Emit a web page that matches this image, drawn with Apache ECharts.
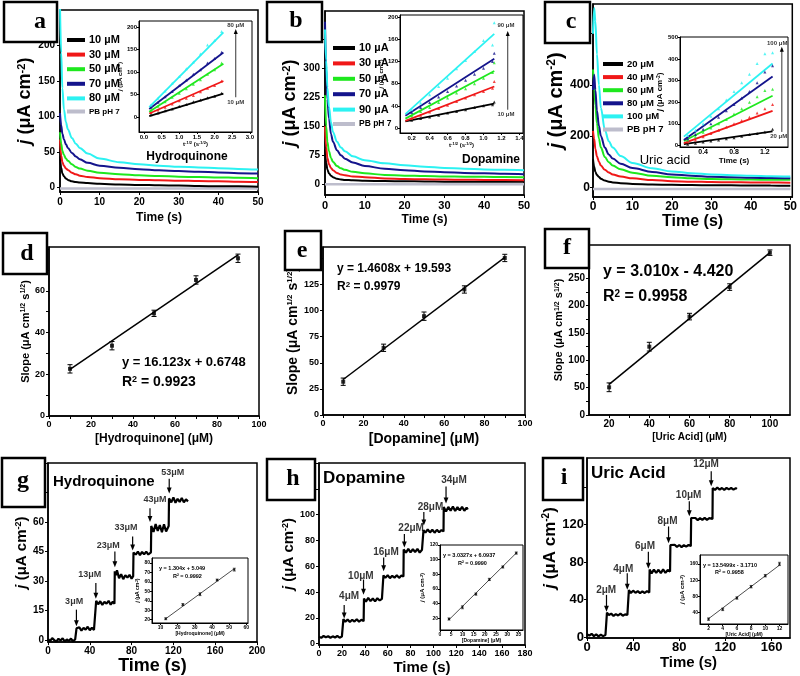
<!DOCTYPE html>
<html><head><meta charset="utf-8">
<script src="https://cdn.jsdelivr.net/npm/echarts@6/dist/echarts.min.js"></script>
<style>html,body{margin:0;padding:0;background:#fff}#c{width:800px;height:676px}</style>
</head><body><div id="c"></div>
<script>
// ================= DATA =================
// (a,b,c) chronoamperometric decays: time (s) and current density (uA cm-2)
const decayTime = [0,0.3,0.6,1,1.5,2,3,4,5,7,10,15,20,25,30,35,40,45,50];
const hq10 = [44,28,20,16,13,11,9,8,7.5,6.5,5.5,4.5,4,3.5,3,2.5,2,2,1.5];
const hq30 = [68,45,36,31,27,25,21,19,17,15,13.5,12,11,10.5,10,9.5,9,8.5,8];
const hq50 = [78,62,52,46,41,38,33,29,27,24,21,19,17.5,16.5,15.5,15,14.5,14,13.5];
const hq70 = [105,88,76,68,61,56,49,44,40,35,31,28,26,24.5,23.5,22.5,21.5,20.5,20];
const hq80 = [255,190,140,110,92,82,70,62,56,48,41,36,33,31,29.5,28.5,27.5,26.5,25.5];
const hqPB = [-1,-1,-1,-1,-1,-1,-1,-1,-1,-1,-1,-1,-1,-1,-1,-1,-1,-1,-1];

const da10 = [90,55,38,28,22,18,14,12,11,10,9,8,7.5,7,6.5,6.5,6,6,6];
const da30 = [150,95,68,52,42,36,29,25,23,20,18,15,13.5,12.5,12,11.5,11,10.5,10];
const da50 = [230,150,110,85,68,58,47,41,37,32,28,24,22,21,20,19.5,19,18.5,18];
const da70 = [420,300,220,170,130,110,88,75,66,56,47,40,36,33,31,29,28,27,26];
const da90 = [400,320,250,200,160,135,110,95,85,72,62,54,49,45,42,40,38,37,36];
const daPB = [0,0,0,0,0,0,0,0,0,0,0,0,0,0,0,0,0,0,0];

const ua20 = [110,80,60,48,40,33,26,22,19,16,13,11,9.5,8.5,8,7.5,7,6.5,6];
const ua40 = [220,190,150,120,100,85,68,58,50,42,35,28,24,22,20.5,19.5,19,18.5,18];
const ua60 = [460,400,320,250,190,155,118,98,85,70,57,45,39,35,32,31,30,29,29];
const ua80 = [380,440,380,300,240,200,155,128,112,92,75,60,50,45,41,39,37,36,35];
const ua100 = [600,700,650,520,400,310,225,180,155,122,95,74,62,55,50,47,45,43,42];
const uaPB = [-7,-7,-7,-7,-7,-7,-7,-7,-7,-7,-7,-7,-7,-7,-7,-7,-7,-7,-7];

// insets of a,b,c: j vs t^-1/2
const hqInsetX = [0.2,0.4,0.6,0.8,1.0,1.2,1.4,1.6,1.8,2.0,2.2];
const hqDot10 = [5,9,14,18,24,28,34,38,43,46,53];
const hqDot30 = [10,16,22,29,36,42,48,56,64,70,80];
const hqDot50 = [15,24,34,44,53,63,73,83,95,105,120];
const hqDot70 = [22,33,45,57,70,82,95,105,120,130,144];
const hqDot80 = [27,42,58,75,90,107,122,140,160,170,190];
const hqFitX = [0.15,2.25];
const hqFit10 = [2,52], hqFit30 = [8,80], hqFit50 = [12,118], hqFit70 = [18,143], hqFit80 = [22,188];

const daInsetX = [0.2,0.3,0.4,0.5,0.6,0.7,0.8,0.9,1.0,1.1,1.12];
const daDot10 = [14,17,20,23,27,30,33,37,40,42,47];
const daDot30 = [17,23,29,35,41,48,54,60,66,72,84];
const daDot50 = [22,30,37,46,54,63,71,80,90,100,118];
const daDot70 = [28,37,46,56,66,76,86,97,108,120,135];
const daDot90 = [33,45,60,75,90,107,122,138,158,150,190];
const daFitX = [0.13,1.12];
const daFit10 = [12,44], daFit30 = [13,75], daFit50 = [17,103], daFit70 = [22,125], daFit90 = [25,170];

const uaInsetX = [0.2,0.3,0.4,0.5,0.6,0.7,0.8,0.9,1.0,1.1,1.2,1.3];
const uaDot20 = [5,10,15,20,25,30,35,42,50,55,62,75];
const uaDot40 = [15,25,40,55,70,85,100,115,130,150,170,190];
const uaDot60 = [25,40,60,80,100,120,145,170,200,225,255,260];
const uaDot80 = [30,50,75,100,130,160,190,220,250,290,340,370];
const uaDot100 = [45,70,100,135,170,210,250,290,330,380,425,430];
const uaFitX = [0.15,1.3];
const uaFit20 = [5,65], uaFit40 = [10,160], uaFit60 = [20,230], uaFit80 = [25,320], uaFit100 = [40,380];

// (d,e,f) slope vs concentration
const hqConc = [10,30,50,70,90], hqSlope = [22.6,33.7,49.2,65.2,75.6], hqErr = [2,2,1.5,2,2];
const hqLineConc = [10,90], hqLineSlope = [22.4,77.2];
const daConc = [10,30,50,70,90], daSlope = [31.9,64.4,94.7,120.3,150.5], daErr = [3.5,3.5,4,3.5,3.5];
const daLineConc = [10,90], daLineSlope = [34,151];
const uaConc = [20,40,60,80,100], uaSlope = [50.7,125,180,234,297], uaErr = [8,8,6,6,5];
const uaLineConc = [20,100], uaLineSlope = [56,297];

// (g,h,i) amperometric i-t: [time s, j]
const hqAmp = [[0,0.5],[2,-0.5],[4,1],[6,0],[8,-0.8],[10,0.7],[12,-0.2],[14,0.9],[16,-0.6],[18,0.3],[20,-0.4],[22,0.8],[24,-0.7],[26,0.4],[27,0],
[27.3,6],[28,5],[30,6.5],[32,4.8],[34,6.2],[36,5.3],[38,6.8],[40,5],[42,6.3],[44,5.2],[45.8,6],
[46.1,20],[48,18.2],[50,19.8],[52,17.9],[54,19.5],[56,18.5],[58,20],[60,18],[62,19.6],[63.6,18.5],
[63.9,35],[65,33],[66,35.5],[68,31.5],[70,33.5],[72,31],[74,33],[76,31.8],[78,33.2],[80,31.2],[81.5,32.5],
[81.8,44.5],[84,43.5],[86,45],[88,43.2],[90,44.8],[92,43.6],[94,45],[96,43.5],[98.5,44.6],
[98.8,58],[101,55],[103,59],[105,55.5],[107,58.5],[109,54.8],[111,58.8],[113,55.2],[115.5,58],
[115.8,72],[118,70],[120,72.5],[122,69.8],[124,71.8],[126,70.2],[128,72.2],[130,70],[132,71.5],[134,70.5]];
const daAmp = [[0,5.5],[2,4.5],[4,6],[6,5],[8,5.8],[10,4.6],[12,5.7],[14,4.8],[16,6],[18,4.7],[20,5.5],[21,5],
[21.3,19],[23,17],[25,18.8],[27,16.8],[29,18.5],[31,17.2],[33,19],[35,17],[37,18.6],[39,17.5],
[39.3,35],[41,32.5],[43,35.5],[45,33],[47,35],[49,32.8],[51,35.2],[53,33.5],[55,34.8],[56,34],
[56.3,53],[58,51],[60,53],[62,50.8],[64,52.6],[66,51.2],[68,53],[70,51],[72,52.8],[73.8,52],
[74,73],[76,70.5],[78,73.5],[80,70.8],[82,73.2],[84,71],[86,73.5],[88,70.6],[90,72.8],[91,72],
[91.3,88],[93,86],[95,88.5],[97,86.2],[99,88.3],[101,86],[103,88.2],[105,86.3],[107,88],[108.8,87],
[109,106],[111,102.5],[113,106],[115,103],[117,106.2],[119,102.8],[121,105.8],[123,103.2],[125,106],[127,103],[129,105.5],[130,104]];
const uaAmp = [[0,3],[2,1.5],[4,3.5],[6,1],[8,2.8],[10,0.8],[12,2.5],[14,1],[16,2.2],[17,1.5],
[17.3,26],[19,23.5],[21,25],[23,22.5],[25,24.5],[27,23],[29,25],[31,22.8],[33,24.2],[35,23.5],[36,24],
[36.3,50],[38,47],[40,49.5],[42,47.2],[44,49],[46,46.8],[48,48.8],[50,47],[52,49],[54,47.5],
[54.3,72],[56,68],[58,72],[60,68.5],[62,71.8],[64,68.2],[66,72.2],[68,68.5],[70,71.5],[72,70],
[72.3,98],[74,96],[76,98.5],[78,96.2],[80,98.2],[82,96],[84,98],[86,96.5],[88,98.2],[90,97],
[90.3,127],[92,125],[94,127],[96,124.8],[98,126.8],[100,125],[102,127.2],[104,125],[106,126.8],[108.8,126],
[109,159],[111,157],[113,159.5],[115,157.2],[117,159],[119,157],[121,159.2],[123,157.5],[125,159],[127,157.3],[129,158.8],[130,158]];

// additions: arrow time, arrow top, arrow tip; label position and text
const hqAddTime = [27.2,45.8,64,81,97.6,116], hqAddTop = [15.5,29,45,52.7,67,82], hqAddTip = [7,21,37,45.5,60,74.5];
const hqLabT = [25,40,57.6,74.6,102.4,119.4], hqLabJ = [19.8,33.2,48.1,57.3,71.3,85.3];
const hqAddLabel = ['3μM','13μM','23μM','33μM','43μM','53μM'];
const daAddTime = [22,38.9,56.5,74.6,91.6,111], daAddTop = [30,49.7,66.7,85,102,121.8], daAddTip = [19.6,38,56.2,74.6,91.6,108.6];
const daLabT = [26.3,36.6,58.5,80.5,97.4,117.9], daLabJ = [36.6,52.3,71.2,89.5,106,127];
const daAddLabel = ['4μM','10μM','16μM','22μM','28μM','34μM'];
const uaAddTime = [16.9,34.9,53.2,70.7,88.7,107.7], uaAddTop = [45,68,91,118,145,177], uaAddTip = [27,50.5,73,100,129,161];
const uaLabT = [16.6,31.4,50.3,69.8,88.1,103.3], uaLabJ = [49.5,72.6,96.8,123.5,151,184];
const uaAddLabel = ['2μM','4μM','6μM','8μM','10μM','12μM'];

// insets of g,h,i: calibration
const hqCalConc = [13,23,33,43,53], hqCalJ = [21,36,47,62,73], hqCalErr = [1,1,1.5,1,1.5];
const hqCalLineConc = [13,53], hqCalLineJ = [21,74];
const daCalConc = [4,10,16,22,28,34], daCalJ = [19,35,53,73,90,109], daCalErr = [1.5,2,1.5,1.5,1.5,1.5];
const daCalLineConc = [4,34], daCalLineJ = [18,109];
const uaCalConc = [2,4,6,8,10,12], uaCalJ = [24,48,76,104,131,160], uaCalErr = [3,3,3,3,3,4];
const uaCalLineConc = [2,12], uaCalLineJ = [25,157];

// tick labels
const aXTicks = [0,10,20,30,40,50], aYTicks = [0,50,100,150,200];
const bYTicks = [0,75,150,225,300,375], cYTicks = [0,200,400,600];
const iaXTicks = [0,0.5,1,1.5,2,2.5,3], iaYTicks = [0,50,100,150,200];
const ibXTicks = [0.2,0.4,0.6,0.8,1.0,1.2,1.4], ibYTicks = [0,40,80,120,160,200];
const icXTicks = [0.4,0.8,1.2], icYTicks = [0,100,200,300,400,500];
const dXTicks = [0,20,40,60,80,100], dXMinor = [10,30,50,70,90], dYTicks = [0,20,40,60,80], dYMinor = [10,30,50,70];
const eYTicks = [0,25,50,75,100,125,150];
const fXTicks = [20,40,60,80,100], fXMinor = [30,50,70,90], fYTicks = [0,50,100,150,200,250,300], fYMinor = [25,75,125,175,225,275];
const gXTicks = [0,40,80,120,160,200], gYTicks = [0,15,30,45,60,75,90];
const hXTicks = [0,20,40,60,80,100,120,140,160,180], hYTicks = [0,20,40,60,80,100,120,140];
const iXTicks = [0,40,80,120,160], iYTicks = [0,40,80,120,160];
const igXTicks = [10,20,30,40,50,60], igYTicks = [20,30,40,50,60,70,80];
const ihXTicks = [0,5,10,15,20,25,30,35], ihYTicks = [20,40,60,80,100,120];
const iiXTicks = [2,4,6,8,10,12], iiYTicks = [40,80,120,160];

// ================= BUILD =================
const FONT = '"Liberation Sans", Arial, Helvetica, sans-serif';
const C = {k:'#000000', r:'#f01818', g:'#1ee81e', b:'#14148c', c:'#2cf2f2', pb:'#bdbdcc'};

const grids = [
  [60,10,198,182],   // 0 a
  [325,11,199,184],  // 1 b
  [593,4,202,193],   // 2 c
  [49,247,210,169],  // 3 d
  [323,247,202,168], // 4 e
  [589,245,201,170], // 5 f
  [48,463,209,180],  // 6 g
  [319,463,206,182], // 7 h
  [587,458,203,180], // 8 i
  [139,21,113,111],  // 9 inset a
  [400,15,123,118],  // 10 inset b
  [680,37,108,110],  // 11 inset c
  [152,558,96,65],   // 12 inset g
  [440,545,83,85],   // 13 inset h
  [700,555,88,69]    // 14 inset i
].map((g,i)=>({left:g[0], top:g[1], width:g[2], height:g[3], show:true, borderColor:'#000',
  borderWidth: i>=9 ? 1 : 1.5, backgroundColor: i>=9 ? '#fff' : 'transparent', containLabel:false}));

function rich(size){
  return {
    i:{fontStyle:'italic', fontSize:size, fontWeight:'bold', fontFamily:FONT, color:'#000'},
    n:{fontSize:size, fontWeight:'bold', fontFamily:FONT, color:'#000'},
    s:{fontSize:Math.round(size*0.6), fontWeight:'bold', fontFamily:FONT, color:'#000', verticalAlign:'top'}
  };
}
const jName = '{i|j}{n| (μA cm}{s|-2}{n|)}';
const slopeName = '{n|Slope (μA cm}{s|1/2}{n| s}{s|1/2}{n|)}';
const tName = '{n|t}{s|-1/2}{n| (s}{s|-1/2}{n|)}';

function axis(gi, min, max, labels, o){
  o = o || {};
  const a = {
    type:'value', gridIndex:gi, min, max,
    axisLine:{show:true, onZero:false, lineStyle:{color:'#000', width: gi>=9 ? 1 : 1.5}},
    axisTick:{show:true, inside: !!o.inside, length:o.tl||3, customValues:o.ticks||labels, lineStyle:{color:'#000', width:1}},
    axisLabel:{show:true, customValues:labels, fontSize:o.fs||10, fontWeight:'bold', fontFamily:FONT, color:'#000', margin:o.margin==null?4:o.margin},
    splitLine:{show:false}, minorTick:{show:false}
  };
  if (o.fmt) a.axisLabel.formatter = o.fmt;
  if (o.name){
    a.name = o.name; a.nameLocation = 'middle'; a.nameGap = o.gap;
    a.nameTextStyle = {rich: rich(o.ns), fontSize:o.ns, fontWeight:'bold', fontFamily:FONT, color:'#000'};
  }
  return a;
}
const f1 = v => v.toFixed(1);

const xAxis = [
  axis(0,0,50,aXTicks,{fs:10, margin:5, name:'{n|Time (s)}', gap:20, ns:12}),
  axis(1,0,50,aXTicks,{fs:11, margin:5, name:'{n|Time (s)}', gap:19, ns:12}),
  axis(2,0,50.5,aXTicks,{fs:12, margin:4, name:'{n|Time (s)}', gap:15, ns:16}),
  axis(3,0,100,dXTicks,{fs:9, ticks:dXTicks.concat(dXMinor), name:'{n|[Hydroquinone] (μM)}', gap:17, ns:12}),
  axis(4,0,100,dXTicks,{fs:9, ticks:dXTicks.concat(dXMinor), name:'{n|[Dopamine] (μM)}', gap:17, ns:14}),
  axis(5,10,110,fXTicks,{fs:10, ticks:fXTicks.concat(fXMinor), name:'{n|[Uric Acid] (μM)}', gap:17, ns:10}),
  axis(6,0,200,gXTicks,{fs:10, name:'{n|Time (s)}', gap:12, ns:18}),
  axis(7,0,180,hXTicks,{fs:9, name:'{n|Time (s)}', gap:15, ns:15}),
  axis(8,0,176,iXTicks,{fs:13, margin:3, name:'{n|Time (s)}', gap:14, ns:15}),
  axis(9,-0.14,3.06,iaXTicks,{fs:6, tl:2, margin:2, fmt:f1, name:tName, gap:8, ns:6}),
  axis(10,0.07,1.44,ibXTicks,{fs:6, tl:2, margin:2, fmt:f1, name:tName, gap:8, ns:6}),
  axis(11,0.1,1.5,icXTicks,{fs:7, tl:2, margin:2, fmt:f1, name:'{n|Time (s)}', gap:9, ns:8}),
  axis(12,5,61,igXTicks,{fs:5, tl:2, margin:2, name:'{n|[Hydroquinone] (μM)}', gap:6, ns:5}),
  axis(13,0,37,ihXTicks,{fs:5, tl:2, margin:2, name:'{n|[Dopamine] (μM)}', gap:6, ns:5}),
  axis(14,0.8,13.2,iiXTicks,{fs:5, tl:2, margin:2, name:'{n|[Uric Acid] (μM)}', gap:6, ns:5})
];
const yAxis = [
  axis(0,-6,250,aYTicks,{fs:10, margin:5, name:jName, gap:20, ns:18}),
  axis(1,-28,448,bYTicks,{fs:10, margin:5, name:jName, gap:25, ns:18}),
  axis(2,-38,716,cYTicks,{fs:12, margin:3, name:jName, gap:22, ns:20}),
  axis(3,0,81,dYTicks,{fs:9, ticks:dYTicks.concat(dYMinor), name:slopeName, gap:18, ns:11}),
  axis(4,0,161,eYTicks,{fs:9, name:slopeName, gap:22, ns:14}),
  axis(5,0,311,fYTicks,{fs:10, ticks:fYTicks.concat(fYMinor), name:slopeName, gap:24, ns:11}),
  axis(6,-1,90,gYTicks,{fs:10, name:jName, gap:12, ns:15}),
  axis(7,-1,140,hYTicks,{fs:9, name:jName, gap:17, ns:15}),
  axis(8,-1,191,iYTicks,{fs:13, margin:3, name:jName, gap:12, ns:17}),
  axis(9,-33,213,iaYTicks,{fs:6, tl:2, margin:2, name:jName, gap:9, ns:6}),
  axis(10,-9,204,ibYTicks,{fs:6, tl:2, margin:2, name:jName, gap:5, ns:6}),
  axis(11,-8,503,icYTicks,{fs:6, tl:2, margin:2, name:jName, gap:9, ns:8}),
  axis(12,16.5,85.3,igYTicks,{fs:5, tl:2, margin:2, name:jName, gap:7, ns:5}),
  axis(13,4,120,ihYTicks,{fs:5, tl:2, margin:2, name:jName, gap:9, ns:6}),
  axis(14,12,182,iiYTicks,{fs:5, tl:2, margin:2, name:jName, gap:9, ns:6})
];

const series = [];
function decay(gi, name, vals, color, w){
  series.push({type:'line', name, xAxisIndex:gi, yAxisIndex:gi, data:decayTime.map((t,i)=>[t,vals[i]]),
    showSymbol:false, smooth:0.35, smoothMonotone:'x', lineStyle:{color, width:w||2}, itemStyle:{color}, silent:true, z:3});
}
decay(0,'PB pH 7',hqPB,C.pb,2.5); decay(0,'10 µM',hq10,C.k); decay(0,'30 µM',hq30,C.r); decay(0,'50 µM',hq50,C.g); decay(0,'70 µM',hq70,C.b); decay(0,'80 µM',hq80,C.c);
decay(1,'PB pH 7',daPB,C.pb,2.5); decay(1,'10 µA',da10,C.k); decay(1,'30 µA',da30,C.r); decay(1,'50 µA',da50,C.g); decay(1,'70 µA',da70,C.b); decay(1,'90 µA',da90,C.c);
decay(2,'PB pH 7',uaPB,C.pb,2.5); decay(2,'20 μM',ua20,C.k); decay(2,'40 μM',ua40,C.r); decay(2,'60 μM',ua60,C.g); decay(2,'80 μM',ua80,C.b); decay(2,'100 μM',ua100,C.c);

function insetSet(gi, xs, dots, fx, fy, color){
  series.push({type:'line', xAxisIndex:gi, yAxisIndex:gi, data:fx.map((x,i)=>[x,fy[i]]), showSymbol:false, lineStyle:{color, width:1.8}, silent:true, z:4});
  series.push({type:'scatter', xAxisIndex:gi, yAxisIndex:gi, data:xs.map((x,i)=>[x,dots[i]]), symbol:'triangle', symbolSize:3, itemStyle:{color}, silent:true, z:4});
}
insetSet(9,hqInsetX,hqDot10,hqFitX,hqFit10,C.k); insetSet(9,hqInsetX,hqDot30,hqFitX,hqFit30,C.r); insetSet(9,hqInsetX,hqDot50,hqFitX,hqFit50,C.g); insetSet(9,hqInsetX,hqDot70,hqFitX,hqFit70,C.b); insetSet(9,hqInsetX,hqDot80,hqFitX,hqFit80,C.c);
insetSet(10,daInsetX,daDot10,daFitX,daFit10,C.k); insetSet(10,daInsetX,daDot30,daFitX,daFit30,C.r); insetSet(10,daInsetX,daDot50,daFitX,daFit50,C.g); insetSet(10,daInsetX,daDot70,daFitX,daFit70,C.b); insetSet(10,daInsetX,daDot90,daFitX,daFit90,C.c);
insetSet(11,uaInsetX,uaDot20,uaFitX,uaFit20,C.k); insetSet(11,uaInsetX,uaDot40,uaFitX,uaFit40,C.r); insetSet(11,uaInsetX,uaDot60,uaFitX,uaFit60,C.g); insetSet(11,uaInsetX,uaDot80,uaFitX,uaFit80,C.b); insetSet(11,uaInsetX,uaDot100,uaFitX,uaFit100,C.c);

// arrows (custom series through the axes) + labels (scatter labels)
function arrows(gi, ax, a0, a1, lx, ly, labels, fs, lw, head){
  series.push({type:'custom', xAxisIndex:gi, yAxisIndex:gi, silent:true, z:6, clip:false,
    data:ax.map((x,i)=>[x, a0[i], a1[i]]), encode:{x:0, y:[1,2]},
    renderItem:(params, api)=>{
      const p0 = api.coord([api.value(0), api.value(1)]), p1 = api.coord([api.value(0), api.value(2)]);
      const d = p1[1] > p0[1] ? 1 : -1;
      return {type:'group', children:[
        {type:'line', shape:{x1:p0[0], y1:p0[1], x2:p1[0], y2:p1[1]-d*head*0.7}, style:{stroke:'#000', lineWidth:lw}},
        {type:'polygon', shape:{points:[[p1[0],p1[1]],[p1[0]-head*0.4,p1[1]-d*head],[p1[0]+head*0.4,p1[1]-d*head]]}, style:{fill:'#000'}}
      ]};
    }});
  series.push({type:'scatter', xAxisIndex:gi, yAxisIndex:gi, symbolSize:0, silent:true, z:6,
    data:lx.map((x,i)=>[x, ly[i], labels[i]]),
    label:{show:true, position:'inside', formatter:p=>p.value[2], fontSize:fs, fontWeight:'bold', fontFamily:FONT, color:'#000'}});
}
arrows(9,[2.6],[44],[195],[2.6,2.6],[204,33],['80 μM','10 μM'],6,0.8,5);
arrows(10,[1.27],[33],[175],[1.25,1.25],[185,24],['90 μM','10 μM'],6,0.8,5);
arrows(11,[1.42],[62],[458],[1.36,1.38],[474,42],['100 μM','20 μM'],6,0.8,5);

// calibration plots
function errBars(gi, xs, ys, es, cap, lw){
  series.push({type:'custom', xAxisIndex:gi, yAxisIndex:gi, silent:true, z:4,
    data:xs.map((x,i)=>[x, ys[i]-es[i], ys[i]+es[i]]), encode:{x:0, y:[1,2]},
    renderItem:(params, api)=>{
      const p1 = api.coord([api.value(0), api.value(1)]), p2 = api.coord([api.value(0), api.value(2)]);
      const st = {stroke:'#000', lineWidth:lw};
      return {type:'group', children:[
        {type:'line', shape:{x1:p1[0],y1:p1[1],x2:p2[0],y2:p2[1]}, style:st},
        {type:'line', shape:{x1:p1[0]-cap,y1:p1[1],x2:p1[0]+cap,y2:p1[1]}, style:st},
        {type:'line', shape:{x1:p2[0]-cap,y1:p2[1],x2:p2[0]+cap,y2:p2[1]}, style:st}]};
    }});
}
function calib(gi, xs, ys, es, lx, ly, ms, cap, lw){
  series.push({type:'line', xAxisIndex:gi, yAxisIndex:gi, data:lx.map((x,i)=>[x,ly[i]]), showSymbol:false, lineStyle:{color:'#000', width:lw}, silent:true, z:3});
  series.push({type:'scatter', xAxisIndex:gi, yAxisIndex:gi, data:xs.map((x,i)=>[x,ys[i]]), symbol:'rect', symbolSize:ms, itemStyle:{color:'#000'}, silent:true, z:4});
  errBars(gi, xs, ys, es, cap, lw>1?1:0.6);
}
calib(3, hqConc, hqSlope, hqErr, hqLineConc, hqLineSlope, 4, 2.5, 1.5);
calib(4, daConc, daSlope, daErr, daLineConc, daLineSlope, 4, 2.5, 1.5);
calib(5, uaConc, uaSlope, uaErr, uaLineConc, uaLineSlope, 4, 2.5, 1.5);
calib(12, hqCalConc, hqCalJ, hqCalErr, hqCalLineConc, hqCalLineJ, 2, 1.5, 0.7);
calib(13, daCalConc, daCalJ, daCalErr, daCalLineConc, daCalLineJ, 2, 1.5, 0.7);
calib(14, uaCalConc, uaCalJ, uaCalErr, uaCalLineConc, uaCalLineJ, 2, 1.5, 0.7);

// amperometry g,h,i
function amp(gi, data){
  series.push({type:'line', xAxisIndex:gi, yAxisIndex:gi, data, showSymbol:false, lineStyle:{color:'#000', width:2.2}, silent:true, z:3});
}
amp(6, hqAmp); amp(7, daAmp); amp(8, uaAmp);
arrows(6, hqAddTime, hqAddTop, hqAddTip, hqLabT, hqLabJ, hqAddLabel, 9, 1.2, 6);
arrows(7, daAddTime, daAddTop, daAddTip, daLabT, daLabJ, daAddLabel, 10, 1.2, 6);
arrows(8, uaAddTime, uaAddTop, uaAddTip, uaLabT, uaLabJ, uaAddLabel, 10, 1.2, 6);

// legends
function leg(left, top, gap, fs, iw, names, pbfs){
  return {left, top, orient:'vertical', padding:0, itemGap:gap, itemWidth:iw, itemHeight:4, icon:'rect', selectedMode:false,
    textStyle:{fontSize:fs, fontWeight:'bold', fontFamily:FONT, color:'#000', padding:[0,0,0,-1]},
    data:names.map(n=>n==='PB pH 7'?{name:n, textStyle:{fontSize:pbfs}}:{name:n})};
}
const legend = [
  leg(67, 34.5, 3.6, 11, 18, ['10 µM','30 µM','50 µM','70 µM','80 µM','PB pH 7'], 8),
  leg(333, 42.5, 4.4, 11, 22, ['10 µA','30 µA','50 µA','70 µA','90 µA','PB pH 7'], 8.5),
  leg(603, 59, 3.1, 9.5, 20, ['20 μM','40 μM','60 μM','80 μM','100 μM','PB pH 7'], 9.5)
];

// panel letters and text annotations
const g = [];
function txt(x, y, text, size, o){
  o = o || {};
  g.push({type:'text', x, y, z:100, silent:true, style:{text, fill:'#000', fontSize:size, fontWeight:o.w||'bold', fontFamily:o.f||FONT,
    align:o.align||'left', textAlign:o.align||'left', verticalAlign:'middle', textVerticalAlign:'middle', rich:o.rich}});
}
function box(x,y,w,h,letter,lx,ly,fs){
  g.push({type:'rect', z:100, silent:true, shape:{x,y,width:w,height:h}, style:{fill:'#fff', stroke:'#000', lineWidth:2.5}});
  txt(lx, ly, letter, fs||24, {f:'"Liberation Serif", "Times New Roman", serif', align:'center'});
}
box(4,2,53,40,'a',40,22); box(267,2,55,40,'b',296,21); box(545,2,45,41,'c',571,22);
box(3,233,44,41,'d',27,254); box(285,231,36,39,'e',302,251); box(545,229,44,39,'f',567,248);
box(2,458,43,49,'g',23,481); box(267,459,48,41,'h',293,479); box(543,458,40,42,'i',564,478);

const rs = s => ({s:{fontSize:s, fontWeight:'bold', fontFamily:FONT, verticalAlign:'top'}, n:{fontSize:Math.round(s*1.55), fontWeight:'bold', fontFamily:FONT}});
txt(187,157,'Hydroquinone',12,{align:'center'});
txt(491,160,'Dopamine',12,{align:'center'});
txt(665,160,'Uric acid',13,{align:'center', w:'normal'});
txt(122,362,'y = 16.123x + 0.6748',13);
txt(122,382,'{n|R}{s|2}{n| = 0.9923}',13,{rich:rs(9)});
txt(337,269,'y = 1.4608x + 19.593',12);
txt(337,287,'{n|R}{s|2}{n| = 0.9979}',12,{rich:rs(8)});
txt(603,272,'y = 3.010x - 4.420',16);
txt(603,297,'{n|R}{s|2}{n| = 0.9958}',16,{rich:rs(10)});
txt(53,482,'Hydroquinone',15);
txt(323,478,'Dopamine',17);
txt(591,473,'Uric Acid',17);
txt(159,568,'y = 1.304x + 5.049',5.5);
txt(173,576,'R² = 0.9992',5.5);
txt(443,555,'y = 3.0327x + 6.0937',5.5);
txt(458,563,'R² = 0.9990',5.5);
txt(703,565,'y = 13.5499x - 3.1710',5.5);
txt(715,572,'R² = 0.9958',5.5);

const chart = echarts.init(document.getElementById('c'), null, {renderer:'canvas'});
chart.setOption({
  animation:false, backgroundColor:'#fff',
  grid:grids, xAxis, yAxis, series, legend, graphic:g
});
</script></body></html>
